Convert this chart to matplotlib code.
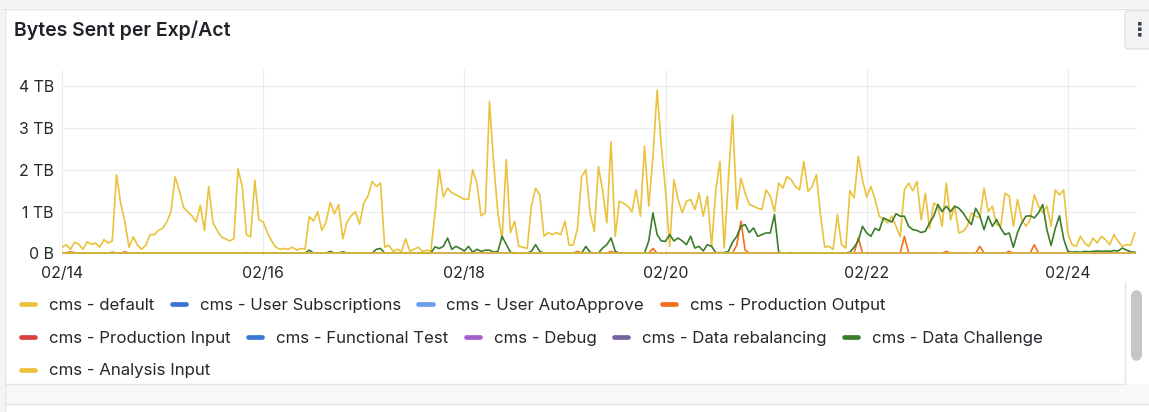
import numpy as np
import pandas as pd
import matplotlib
matplotlib.use("Agg")
import matplotlib.pyplot as plt
import matplotlib.dates as mdates
from matplotlib.patches import Rectangle, FancyBboxPatch
from matplotlib.lines import Line2D

# ---------------- data ----------------
TITLE = "Bytes Sent per Exp/Act"
START = "2025-02-14 00:00"
N_POINTS = 257  # hourly samples

x_tick_dates = ["2025-02-14", "2025-02-16", "2025-02-18", "2025-02-20", "2025-02-22", "2025-02-24"]
x_tick_labels = ["02/14", "02/16", "02/18", "02/20", "02/22", "02/24"]
y_ticks = [0, 1, 2, 3, 4]
y_tick_labels = ["0 B", "1 TB", "2 TB", "3 TB", "4 TB"]

series_names = [
    "cms - default", "cms - User Subscriptions", "cms - User AutoApprove",
    "cms - Production Output", "cms - Production Input", "cms - Functional Test",
    "cms - Debug", "cms - Data rebalancing", "cms - Data Challenge", "cms - Analysis Input",
]
series_colors = [
    "#EAC23B", "#3A74D8", "#6A9CF0", "#F2711C", "#D9403F", "#3A78D6",
    "#A35FD0", "#76649F", "#3B7D2B", "#EAC23B",
]
legend_rows = [4, 5, 1]

# values in TB, hourly
default_tb = [
    0.15, 0.21, 0.10, 0.27, 0.22, 0.10, 0.28, 0.22, 0.25, 0.15, 0.33, 0.25,
    0.30, 1.88, 1.20, 0.75, 0.15, 0.40, 0.20, 0.10, 0.20, 0.45, 0.45, 0.55,
    0.60, 0.75, 1.00, 1.83, 1.50, 1.10, 1.00, 0.90, 0.75, 1.15, 0.55, 1.60,
    0.75, 0.55, 0.40, 0.35, 0.30, 0.35, 2.02, 1.60, 0.45, 0.40, 1.75, 0.80,
    0.75, 0.50, 0.30, 0.15, 0.10, 0.12, 0.10, 0.15, 0.08, 0.12, 0.10, 0.89,
    0.77, 1.00, 0.55, 0.75, 1.22, 0.95, 1.17, 0.35, 0.75, 0.90, 1.00, 0.70,
    1.20, 1.37, 1.72, 1.60, 1.68, 0.15, 0.20, 0.05, 0.10, 0.05, 0.35, 0.05,
    0.10, 0.15, 0.05, 0.08, 0.05, 0.97, 2.00, 1.35, 1.56, 1.45, 1.40, 1.35,
    1.29, 1.30, 2.00, 1.68, 0.90, 0.97, 3.63, 2.16, 0.97, 0.33, 2.24, 0.50,
    0.77, 0.17, 0.15, 0.12, 1.13, 1.56, 1.40, 0.41, 0.50, 0.45, 0.50, 0.45,
    0.77, 0.20, 0.20, 0.60, 1.84, 2.00, 0.97, 0.53, 2.08, 1.50, 0.73, 2.67,
    0.41, 1.25, 1.20, 1.13, 1.00, 1.52, 0.89, 2.56, 1.13, 2.30, 3.90, 2.56,
    1.50, 0.17, 1.76, 1.29, 0.97, 1.25, 1.29, 1.05, 1.44, 0.89, 1.37, 0.17,
    1.52, 2.20, 0.13, 1.76, 3.31, 1.05, 1.80, 1.44, 1.17, 1.13, 1.08, 1.05,
    1.52, 1.37, 1.00, 1.68, 1.56, 1.84, 1.76, 1.60, 1.52, 2.20, 1.48, 1.60,
    1.88, 0.90, 0.15, 0.17, 0.10, 0.93, 0.21, 0.13, 1.50, 1.33, 2.32, 1.76,
    1.35, 1.60, 1.29, 0.89, 0.81, 0.73, 0.89, 0.65, 0.40, 1.52, 1.68, 1.50,
    1.72, 0.80, 1.44, 0.60, 1.20, 1.13, 0.65, 1.68, 0.80, 1.13, 0.49, 0.53,
    0.65, 0.97, 0.89, 0.85, 1.56, 1.00, 1.13, 0.69, 0.65, 1.44, 1.37, 0.65,
    1.29, 0.81, 0.65, 0.81, 1.40, 1.13, 0.97, 1.13, 0.65, 1.52, 1.40, 1.52,
    0.49, 0.21, 0.17, 0.41, 0.25, 0.17, 0.37, 0.25, 0.41, 0.33, 0.21, 0.45,
    0.29, 0.17, 0.21, 0.20, 0.49,
]

data_challenge_tb = [
    0.01, 0.01, 0.01, 0.01, 0.01, 0.01, 0.01, 0.01, 0.01, 0.01, 0.01, 0.01,
    0.01, 0.01, 0.01, 0.01, 0.01, 0.01, 0.01, 0.01, 0.01, 0.01, 0.01, 0.01,
    0.01, 0.01, 0.01, 0.01, 0.01, 0.01, 0.01, 0.01, 0.01, 0.01, 0.01, 0.01,
    0.01, 0.01, 0.01, 0.01, 0.01, 0.01, 0.01, 0.01, 0.01, 0.01, 0.01, 0.01,
    0.01, 0.01, 0.01, 0.01, 0.01, 0.01, 0.01, 0.01, 0.01, 0.01, 0.01, 0.08,
    0.01, 0.01, 0.01, 0.01, 0.05, 0.01, 0.01, 0.04, 0.01, 0.01, 0.01, 0.01,
    0.01, 0.01, 0.01, 0.10, 0.12, 0.01, 0.01, 0.01, 0.01, 0.01, 0.01, 0.01,
    0.01, 0.01, 0.01, 0.01, 0.01, 0.16, 0.12, 0.17, 0.37, 0.10, 0.17, 0.12,
    0.06, 0.17, 0.03, 0.10, 0.05, 0.08, 0.08, 0.03, 0.05, 0.41, 0.22, 0.03,
    0.01, 0.01, 0.01, 0.01, 0.05, 0.21, 0.05, 0.01, 0.01, 0.01, 0.01, 0.01,
    0.01, 0.01, 0.01, 0.01, 0.01, 0.17, 0.03, 0.01, 0.01, 0.13, 0.21, 0.37,
    0.05, 0.01, 0.01, 0.01, 0.01, 0.01, 0.01, 0.01, 0.30, 0.97, 0.45, 0.30,
    0.29, 0.45, 0.30, 0.37, 0.30, 0.21, 0.41, 0.13, 0.17, 0.06, 0.21, 0.17,
    0.02, 0.02, 0.02, 0.05, 0.27, 0.41, 0.65, 0.69, 0.50, 0.61, 0.41, 0.45,
    0.49, 0.49, 0.93, 0.03, 0.01, 0.01, 0.02, 0.01, 0.01, 0.01, 0.02, 0.01,
    0.01, 0.01, 0.01, 0.01, 0.01, 0.01, 0.01, 0.01, 0.03, 0.15, 0.30, 0.65,
    0.49, 0.41, 0.60, 0.55, 0.85, 0.80, 0.75, 0.95, 0.89, 0.89, 0.65, 0.57,
    0.55, 0.50, 0.53, 0.73, 0.89, 1.17, 1.00, 1.13, 1.00, 1.13, 1.08, 0.97,
    0.81, 0.69, 1.08, 0.90, 0.57, 0.89, 0.65, 0.81, 0.60, 0.45, 0.49, 0.15,
    0.50, 0.73, 0.89, 0.90, 0.85, 0.97, 1.17, 0.57, 0.19, 0.60, 0.90, 0.35,
    0.05, 0.03, 0.04, 0.03, 0.05, 0.04, 0.05, 0.06, 0.05, 0.06, 0.05, 0.07,
    0.06, 0.13, 0.08, 0.04, 0.03,
]

production_output_tb = [
    0.01, 0.02, 0.04, 0.02, 0.01, 0.01, 0.01, 0.01, 0.01, 0.01, 0.01, 0.01,
    0.03, 0.01, 0.01, 0.04, 0.01, 0.01, 0.01, 0.01, 0.01, 0.01, 0.01, 0.01,
    0.01, 0.01, 0.01, 0.01, 0.01, 0.01, 0.01, 0.01, 0.01, 0.01, 0.01, 0.01,
    0.01, 0.01, 0.01, 0.01, 0.01, 0.01, 0.01, 0.01, 0.02, 0.01, 0.01, 0.01,
    0.01, 0.01, 0.01, 0.01, 0.01, 0.01, 0.01, 0.01, 0.01, 0.01, 0.01, 0.01,
    0.01, 0.01, 0.01, 0.01, 0.01, 0.01, 0.01, 0.01, 0.01, 0.01, 0.01, 0.01,
    0.01, 0.01, 0.01, 0.01, 0.01, 0.01, 0.01, 0.01, 0.01, 0.01, 0.01, 0.01,
    0.01, 0.01, 0.01, 0.01, 0.01, 0.01, 0.01, 0.01, 0.01, 0.01, 0.01, 0.01,
    0.01, 0.01, 0.01, 0.01, 0.01, 0.01, 0.01, 0.01, 0.01, 0.01, 0.01, 0.01,
    0.01, 0.01, 0.01, 0.01, 0.01, 0.01, 0.01, 0.01, 0.01, 0.01, 0.01, 0.01,
    0.01, 0.01, 0.01, 0.05, 0.01, 0.01, 0.01, 0.01, 0.01, 0.01, 0.01, 0.05,
    0.01, 0.01, 0.01, 0.01, 0.01, 0.01, 0.01, 0.01, 0.01, 0.12, 0.01, 0.01,
    0.01, 0.01, 0.01, 0.01, 0.01, 0.01, 0.01, 0.01, 0.01, 0.01, 0.01, 0.01,
    0.01, 0.01, 0.01, 0.01, 0.01, 0.20, 0.77, 0.08, 0.01, 0.01, 0.01, 0.01,
    0.01, 0.01, 0.01, 0.01, 0.01, 0.01, 0.01, 0.01, 0.01, 0.01, 0.01, 0.01,
    0.01, 0.01, 0.01, 0.01, 0.01, 0.01, 0.01, 0.01, 0.01, 0.01, 0.37, 0.02,
    0.01, 0.01, 0.01, 0.01, 0.01, 0.01, 0.01, 0.01, 0.01, 0.41, 0.02, 0.01,
    0.01, 0.01, 0.01, 0.01, 0.01, 0.01, 0.01, 0.05, 0.01, 0.01, 0.01, 0.01,
    0.01, 0.01, 0.01, 0.17, 0.01, 0.01, 0.01, 0.01, 0.01, 0.01, 0.05, 0.01,
    0.01, 0.01, 0.01, 0.01, 0.21, 0.01, 0.01, 0.01, 0.01, 0.01, 0.01, 0.01,
    0.01, 0.01, 0.01, 0.01, 0.03, 0.01, 0.01, 0.01, 0.01, 0.01, 0.01, 0.01,
    0.01, 0.01, 0.01, 0.01, 0.01,
]

zero_tb = [0.0] * N_POINTS  # series that carry no traffic in this window

series_values = [
    default_tb, zero_tb, zero_tb, production_output_tb, zero_tb, zero_tb,
    zero_tb, zero_tb, data_challenge_tb, zero_tb,
]

# ---------------- figure ----------------
W, H = 1149, 412
plt.rcParams["font.family"] = ["Inter", "DejaVu Sans"]
fig = plt.figure(figsize=(W / 100, H / 100), dpi=100)
fig.patch.set_facecolor("white")


def fx(x):
    return x / W


def fy(y):
    return 1 - y / H


TEXT = "#24292E"
# page background / panel frame
fig.add_artist(Rectangle((0, fy(8)), 1, 8 / H, transform=fig.transFigure,
                         fc="#F3F4F5", ec="none", zorder=0))
fig.add_artist(Rectangle((0, 0), fx(4), 1, transform=fig.transFigure,
                         fc="#F3F4F5", ec="none", zorder=0))
fig.add_artist(Line2D([fx(4), fx(W)], [fy(8.5), fy(8.5)], transform=fig.transFigure,
                      color="#DFE1E4", lw=1, zorder=1))
fig.add_artist(Line2D([fx(4.5), fx(4.5)], [fy(8.5), fy(412)], transform=fig.transFigure,
                      color="#DFE1E4", lw=1, zorder=1))
# bottom band under legend
fig.add_artist(Rectangle((fx(5), fy(404)), fx(W - 5), 20 / H, transform=fig.transFigure,
                         fc="#F7F8F8", ec="none", zorder=0))
fig.add_artist(Line2D([fx(5), fx(1125)], [fy(384), fy(384)], transform=fig.transFigure,
                      color="#E3E4E6", lw=1, zorder=1))
fig.add_artist(Line2D([fx(5), fx(W)], [fy(404), fy(404)], transform=fig.transFigure,
                      color="#E3E4E6", lw=1, zorder=1))
fig.add_artist(Line2D([fx(1125), fx(1125)], [fy(283), fy(384)], transform=fig.transFigure,
                      color="#E3E4E6", lw=1, zorder=1))
# legend scrollbar
fig.add_artist(FancyBboxPatch((fx(1131), fy(361)), fx(11), 71 / H,
                              boxstyle="round,pad=0,rounding_size=0.006",
                              transform=fig.transFigure, fc="#C5C6C7", ec="none", zorder=1,
                              mutation_aspect=W / H))
# menu button
fig.add_artist(FancyBboxPatch((fx(1125), fy(49)), fx(30), 38 / H,
                              boxstyle="round,pad=0,rounding_size=0.003",
                              transform=fig.transFigure, fc="#F2F3F4", ec="#D9DBDE", lw=0.8,
                              zorder=1, mutation_aspect=W / H))
fig.text(fx(1140), fy(30), "\u22ee", fontsize=14, color="#3A3F45",
         ha="center", va="center", family="DejaVu Sans", weight="bold")

# title
fig.text(fx(14), fy(30), TITLE, fontsize=14, weight="semibold", color="#1F2328",
         ha="left", va="center")

# plot axes
ax = fig.add_axes([fx(62), fy(256), (1137 - 62) / W, (256 - 70) / H])
ax.set_facecolor("none")
times = pd.date_range(START, periods=N_POINTS, freq="h")
for name, color, vals in zip(series_names, series_colors, series_values):
    ax.plot(times, vals, color=color, lw=1.2, solid_joinstyle="round", label=name)

t0 = pd.Timestamp(START)
ax.set_xlim(t0, t0 + pd.Timedelta(hours=256.5))
ax.set_ylim(-0.06, 4.382)
ax.set_xticks(pd.to_datetime(x_tick_dates))
ax.set_xticklabels(x_tick_labels)
ax.set_yticks(y_ticks)
ax.set_yticklabels(y_tick_labels)
ax.tick_params(axis="both", length=0, labelsize=11.4, colors=TEXT)
ax.tick_params(axis="y", pad=6)
ax.tick_params(axis="x", pad=7)
ax.grid(True, color="#ECECEC", lw=0.8)
ax.set_axisbelow(True)
for s in ax.spines.values():
    s.set_visible(False)

# legend (manual, Grafana style)
renderer = fig.canvas.get_renderer()
row_y = [304, 337, 369.5]
idx = 0
for r, count in enumerate(legend_rows):
    x = 18.5
    y = row_y[r]
    for _ in range(count):
        name = series_names[idx]
        color = series_colors[idx]
        fig.add_artist(Line2D([fx(x + 2.3), fx(x + 19 - 2.3)], [fy(y), fy(y)],
                              transform=fig.transFigure, color=color, lw=3.4,
                              solid_capstyle="round", zorder=3))
        t = fig.text(fx(x + 30.5), fy(y), name, fontsize=12.15, color=TEXT,
                     ha="left", va="center_baseline")
        w = t.get_window_extent(renderer).width
        x = x + 30.5 + w + 15
        idx += 1

fig.savefig("out.png", dpi=100)
